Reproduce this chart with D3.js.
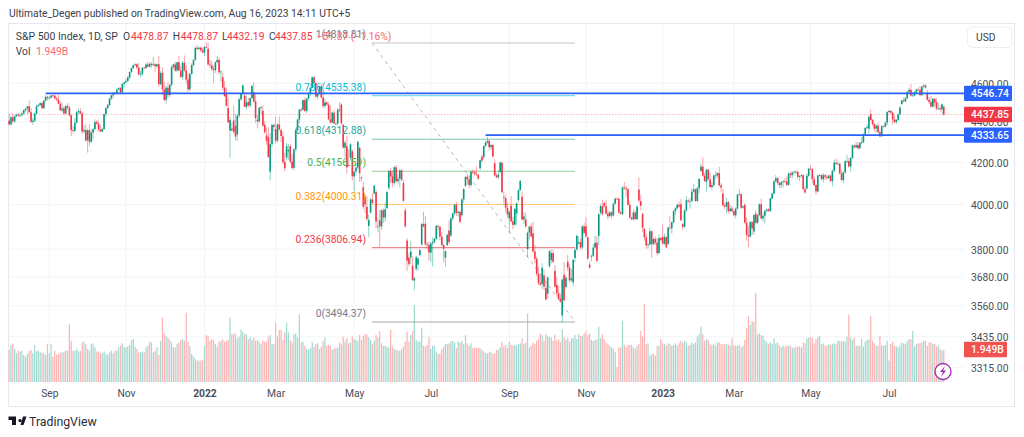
<!DOCTYPE html>
<html><head><meta charset="utf-8">
<script src="https://cdnjs.cloudflare.com/ajax/libs/d3/7.8.5/d3.min.js"></script>
<style>html,body{margin:0;padding:0;background:#fff;overflow:hidden}text{font-family:Roboto,sans-serif}</style>
</head><body><svg id="c" width="1024" height="437"></svg>
<script>
const shownLabels=["Sep","Nov","2022","Mar","May","Jul","Sep","Nov","2023","Mar","May","Jul"];
const closes=[
[4387,4423,4403,4429,4437,4432,4436,4443,4460,4468,4480,4449,4400,4406,4442,4480,4486,4496,4470,4509,4529,4523],
[4524,4536,4535,4520,4514,4493,4459,4469,4443,4481,4473,4433,4358,4355,4396,4449,4455,4443,4352,4359,4307],
[4358,4300,4346,4364,4399,4391,4361,4351,4364,4439,4471,4486,4520,4537,4550,4545,4567,4575,4552,4597,4605],
[4613,4631,4660,4681,4697,4702,4685,4647,4650,4683,4682,4701,4689,4704,4698,4702,4691,4702,4595,4656,4567],
[4513,4577,4538,4592,4686,4701,4668,4713,4668,4634,4710,4669,4620,4568,4650,4697,4726,4792,4786,4793,4778,4766],
[4797,4794,4701,4696,4677,4670,4713,4726,4659,4663,4577,4533,4483,4398,4410,4357,4350,4326,4432,4516],
[4546,4589,4477,4501,4484,4522,4587,4504,4419,4402,4472,4475,4381,4349,4305,4226,4289,4385,4374],
[4306,4387,4363,4329,4201,4171,4278,4260,4204,4173,4263,4358,4412,4463,4462,4512,4456,4520,4544,4576,4632,4602,4530],
[4546,4583,4526,4481,4500,4488,4413,4397,4447,4392,4392,4462,4459,4393,4272,4296,4175,4184,4288,4132],
[4155,4175,4300,4147,4123,3991,4001,3935,3930,4024,4008,4088,3923,3901,3901,3974,3941,3979,4058,4158,4132],
[4101,4176,4109,4121,4161,4116,4018,3901,3750,3735,3790,3667,3675,3765,3760,3796,3912,3901,3822,3819,3785],
[3825,3831,3845,3903,3899,3855,3819,3802,3791,3863,3831,3937,3960,3999,3962,3967,3921,4024,4072,4130],
[4119,4091,4155,4152,4145,4140,4122,4210,4208,4280,4297,4305,4274,4284,4228,4137,4128,4140,4199,4058,4030,3986,3955],
[3967,3924,3908,3980,4006,4067,4110,3932,3946,3901,3873,3900,3856,3790,3758,3693,3655,3647,3719,3640,3586],
[3678,3791,3783,3745,3640,3612,3589,3577,3669,3583,3677,3720,3666,3674,3753,3797,3859,3831,3807,3901,3872],
[3856,3759,3720,3771,3807,3828,3749,3956,3993,3957,3992,3959,3947,3965,3950,4004,4028,4027,3964,3958,4080],
[4077,4072,3999,3941,3933,3964,3934,3991,4019,3995,3895,3852,3817,3821,3879,3822,3845,3829,3783,3849,3840],
[3824,3853,3808,3895,3893,3919,3970,3983,3999,3991,3929,3899,3973,4020,4016,4017,4060,4071,4017,4077],
[4120,4179,4136,4111,4164,4118,4082,4091,4137,4136,4148,4090,4079,3997,3991,4012,3970,3982,3970],
[3951,3982,4046,4048,3986,3992,3918,3862,3856,3920,3892,3952,3917,3952,4002,3937,3949,3971,3978,3971,4028,4051,4109],
[4124,4101,4091,4105,4109,4108,4092,4146,4138,4151,4155,4154,4130,4134,4138,4072,4056,4135,4169],
[4167,4119,4091,4061,4136,4138,4119,4138,4130,4124,4136,4110,4159,4198,4192,4193,4146,4115,4151,4205,4206,4180],
[4221,4282,4273,4284,4268,4294,4299,4338,4369,4373,4426,4410,4389,4366,4381,4348,4328,4378,4376,4396,4450],
[4456,4447,4412,4399,4410,4439,4473,4510,4505,4522,4555,4566,4535,4536,4554,4567,4566,4538,4582,4589],
[4577,4513,4502,4478,4518,4499,4468,4469,4464,4490,4437.85]].flat();
const upperWicks=[
35,8,22,5,6,10,10,8,5,3,1,30,22,14,5,10,5,5,8,3,8,7,
8,5,3,16,8,25,15,30,12,5,15,10,10,20,22,8,12,15,6,20,30,
8,30,12,5,14,10,15,20,5,3,3,5,3,3,5,5,5,7,5,5,5,
12,8,3,3,3,5,5,25,15,3,6,8,15,10,10,40,8,3,45,10,30,
40,10,30,4,10,5,15,2,35,25,10,40,25,30,5,10,2,5,14,5,5,15,
2,25,35,25,25,15,5,22,15,5,25,35,30,50,15,30,75,60,5,8,
3,5,20,35,25,2,2,50,40,25,5,5,30,20,40,50,55,5,5,
65,5,40,5,25,45,15,30,10,35,5,10,5,3,10,3,15,3,6,5,5,5,5,
3,5,15,25,20,5,15,70,5,15,5,10,40,5,5,10,50,75,5,10,
5,20,5,5,5,25,15,50,25,5,30,5,10,40,50,5,10,30,5,5,15,
30,5,10,20,5,5,15,10,10,20,45,40,5,5,5,5,5,55,35,10,15,
5,20,5,5,5,5,20,5,5,5,45,5,5,5,15,5,5,5,5,5,
15,20,5,10,10,35,2,5,10,2,5,20,5,5,5,20,10,20,5,5,25,15,25,
5,45,20,5,5,5,5,25,20,30,5,5,15,50,30,10,30,35,20,25,25,
5,5,15,15,25,35,30,20,5,55,10,30,15,40,5,10,5,25,15,5,15,
40,5,15,5,15,30,30,5,10,30,5,30,15,5,5,5,5,5,5,5,5,
25,10,5,15,5,15,10,5,60,30,5,5,15,5,15,5,5,10,20,15,5,
55,15,5,5,55,5,5,5,5,15,25,5,5,20,5,15,15,25,5,5,
5,15,45,15,5,5,30,15,5,20,5,30,10,20,10,20,5,15,10,
5,5,5,25,5,5,10,25,40,5,5,5,15,5,5,25,15,5,5,5,5,5,5,
15,5,5,5,5,15,25,5,10,5,5,5,5,5,5,5,15,10,5,
15,5,15,5,5,5,5,10,5,10,5,5,5,15,20,15,5,15,5,5,30,15,
5,5,5,15,15,5,25,5,5,15,5,25,5,5,5,15,10,5,5,5,5,
5,5,5,20,5,5,10,5,15,5,5,10,30,15,5,5,10,20,5,5,
5,15,15,30,5,5,20,30,15,5,0];
const lowerWicks=[
5,5,10,8,6,8,9,10,10,8,30,5,6,15,8,5,3,3,3,4,5,12,
8,3,6,5,8,3,3,10,6,6,10,5,30,12,5,4,8,5,12,10,5,
60,22,5,35,8,5,8,3,3,5,14,4,5,8,15,8,3,5,5,5,20,
5,8,10,5,5,5,12,5,15,10,5,5,3,5,15,5,30,10,15,5,30,
8,22,15,10,8,8,6,8,2,4,15,8,20,15,8,3,5,5,8,8,8,5,
20,3,5,15,10,70,15,3,10,50,12,5,5,5,134,5,10,20,30,10,
10,10,2,15,10,10,3,5,25,35,10,35,5,10,20,5,41,15,20,
15,10,10,30,10,15,15,40,10,10,10,10,5,20,10,5,5,10,10,10,2,2,5,
15,5,5,10,10,3,5,5,5,5,10,10,10,10,5,50,30,5,15,20,
70,15,10,40,15,10,40,10,50,5,5,5,30,25,90,15,25,20,5,10,30,
20,10,5,15,40,5,5,5,45,10,30,5,40,10,25,5,5,5,10,20,35,
40,100,5,5,15,15,5,60,40,5,10,5,10,10,15,15,5,5,15,5,
25,15,10,10,10,5,5,10,10,10,5,10,15,15,5,5,5,5,5,5,30,20,15,
65,5,20,5,50,10,5,5,20,5,35,30,5,5,20,10,10,5,20,15,5,
20,5,15,5,5,15,5,5,29,5,5,15,10,5,15,20,5,5,10,10,5,
5,5,5,20,5,5,5,41,10,10,5,5,15,5,15,5,5,5,5,5,5,
10,35,5,5,5,5,5,5,10,20,20,15,15,15,5,60,5,10,10,5,5,
5,5,5,5,5,25,5,20,5,5,5,15,5,5,10,35,5,5,5,5,
25,5,5,5,45,5,5,15,10,20,10,5,20,5,10,30,10,5,5,
5,15,5,5,5,5,5,25,48,5,30,15,5,5,5,5,15,35,5,5,5,5,5,
5,10,15,15,25,5,5,5,15,15,10,10,10,20,10,5,5,5,5,
5,20,5,15,5,5,5,15,15,5,5,5,25,5,5,5,5,5,15,5,10,5,
25,5,5,5,5,5,5,5,5,5,25,5,10,15,20,5,5,5,5,5,15,
5,10,25,5,10,5,5,5,5,5,5,5,5,5,5,5,5,5,5,5,
5,5,10,5,5,20,10,5,10,25,5.66];
const gapBars=[109,117,119,120,121,122,123,124,125,129,134,135,136,139,140,141,142,143,146,149,150,151,152,153,154,182,183,185,186,187,188,192,193,194,195,196,197,198,200,201,202,203,207,208,216,217,218,219,220,221,222,223,224,225,226,228,239,240,241,242,248,250,258,259,260,266,269,270,271,274,275,277,278,279,281,283,284,287,292,293,294,295,296,297,299,300,303,304,305,306,309,310,311,312,314,316,317,318,319,323,324,326,336,345,346,347,348,358,361,368,369,379,382,391,403,408,409,412,437,471,472,489,503,508,512];
const gapOpens=[4787,4632,4547,4471,4356,4366,4408,4380,4336,4535,4554,4506,4412,4456,4385,4332,4324,4155,4363,4359,4327,4202,4223,4253,4279,4489,4385,4278,4187,4222,4253,4270,4128,4081,4035,3990,3903,3964,4052,4059,3900,3928,3984,4078,4101,3974,3838,3763,3764,3728,3665,3715,3733,3774,3821,3913,3763,3818,3883,3860,3951,4087,4171,4227,4225,4195,4153,4198,4034,3937,3995,3909,3959,4022,4037,3932,3800,3870,3651,3687,3633,3610,3726,3753,3706,3647,3520,3690,3638,3746,3657,3762,3799,3825,3808,3902,3852,3733,3767,3859,3963,4007,3957,4070,4016,3958,3890,3854,3823,4002,3911,4158,4105,4052,3998,3878,3958,4002,4075,4366,4440,4492,4550,4501,4478.87];
const volumes=[
1.93,2.24,2.34,2.0,1.75,1.93,1.85,1.89,1.64,1.54,1.71,1.89,1.93,1.75,2.24,1.85,1.91,1.81,1.77,1.77,1.65,2.3,
1.75,2.3,1.55,1.9,1.65,1.7,1.8,1.8,1.85,1.9,1.9,3.5,2.5,1.9,1.9,2.0,1.85,1.9,2.4,2.45,2.3,
2.0,1.9,2.3,2.35,2.1,1.85,1.85,1.75,1.75,1.85,1.7,1.65,1.8,1.9,1.75,1.9,1.9,2.1,2.2,2.35,2.1,
2.1,2.15,2.25,2.55,2.6,2.15,2.0,1.8,1.8,1.85,1.8,2.1,2.2,2.45,2.4,1.8,1.9,2.1,1.65,2.5,3.9,
2.95,2.8,2.7,2.55,2.4,2.1,2.1,2.3,2.4,2.55,2.6,2.5,4.2,2.45,2.2,1.7,1.55,1.4,1.3,1.3,1.3,1.35,
2.2,2.85,2.8,2.5,2.6,2.55,2.3,2.15,2.45,2.5,2.6,2.45,2.5,2.55,3.9,2.9,2.95,2.9,2.65,2.75,
3.2,3.05,2.9,2.9,2.6,2.75,2.55,2.7,2.5,2.55,2.45,2.3,2.5,2.45,2.45,2.75,2.85,2.3,2.3,
3.6,2.75,3.15,3.15,2.55,3.0,3.6,3.0,2.55,2.4,2.9,2.95,2.7,4.1,2.4,2.45,2.2,2.0,1.95,2.05,2.45,2.15,2.3,
2.35,2.0,2.15,2.5,2.7,2.2,2.25,2.2,1.95,2.05,2.05,2.1,2.4,2.3,2.75,2.45,2.65,2.35,2.4,2.75,
2.6,2.55,2.5,2.85,2.55,2.8,2.9,2.9,2.7,2.55,2.3,2.5,2.85,2.7,3.1,2.35,2.2,2.2,2.15,2.1,3.15,
2.15,2.0,1.95,1.9,1.9,2.0,2.15,2.45,3.05,2.45,2.85,3.1,4.65,2.55,2.45,2.45,3.3,2.2,2.15,2.25,2.75,
2.0,2.2,2.2,1.85,1.7,1.75,2.0,2.15,2.3,2.3,2.35,2.45,2.5,2.4,2.05,2.45,2.4,2.5,2.3,2.85,
2.35,2.2,2.35,2.05,2.1,2.05,2.1,2.05,1.95,1.85,1.75,1.75,1.8,1.85,1.7,1.75,1.95,1.95,2.1,2.45,2.15,2.25,2.1,
2.45,2.25,2.2,2.25,2.2,2.3,2.35,2.65,2.3,2.4,4.15,2.1,2.2,2.4,2.3,2.5,2.6,2.95,2.85,2.5,2.9,
2.8,2.75,2.7,2.5,2.85,2.5,2.6,2.4,3.2,2.7,2.55,2.7,2.45,2.65,2.65,2.85,2.6,2.9,2.8,2.8,2.95,
3.1,2.85,2.95,2.55,2.5,2.55,2.6,3.35,2.65,2.9,2.6,2.4,2.3,2.2,2.1,2.0,1.8,0.9,2.1,2.1,3.7,
2.25,2.1,2.25,2.25,2.25,2.1,2.0,2.2,2.3,3.1,2.75,4.75,2.3,2.35,1.6,1.7,1.7,1.6,2.2,2.2,2.6,
2.35,2.3,2.2,2.35,2.3,2.2,2.25,2.35,2.2,2.35,2.5,2.4,2.5,2.4,2.2,2.25,2.4,2.3,2.4,2.75,
2.9,3.35,2.9,2.5,2.6,2.55,2.3,2.25,2.3,2.2,2.4,2.4,2.3,2.3,2.3,2.3,2.25,2.2,2.65,
2.2,2.2,2.2,2.25,2.1,2.2,2.55,3.25,4.0,3.45,3.7,3.65,5.4,2.9,2.95,2.85,2.8,2.55,2.4,2.3,2.4,2.3,2.65,
2.35,2.4,2.2,2.1,2.2,2.15,2.2,2.2,2.2,2.1,2.05,2.15,2.15,2.15,2.1,2.4,2.35,2.65,2.7,
2.7,2.7,2.35,2.6,2.75,2.8,2.3,2.35,2.2,2.2,2.3,2.25,2.3,2.35,2.3,2.5,2.5,2.45,2.5,2.45,2.75,4.1,
2.7,2.55,2.7,2.2,2.2,2.2,2.6,2.15,2.45,2.55,2.6,4.0,2.5,2.35,2.2,2.2,2.8,2.25,2.2,2.25,2.5,
1.3,2.3,2.45,2.2,2.15,2.1,2.2,2.4,2.35,2.3,2.5,2.6,2.6,3.1,2.15,2.3,2.35,2.35,2.4,2.5,
2.5,2.2,2.4,2.4,2.3,2.3,2.15,2.2,2.0,1.9,1.949];
const firstBarOfShown=[22,64,107,146,189,231,274,316,358,397,439,482];
const priceTicks=[4600,4400,4200,4000,3800,3680,3560,3435,3315];
const fibLevels=[1,0.786,0.618,0.5,0.382,0.236,0];
const fibPrices=[4818.81,4535.38,4312.88,4156.59,4000.31,3806.94,3494.37];
const fibColors=["#787b86","#00bcd4","#26a69a","#4caf50","#ff9800","#f23645","#787b86"];
const fibLineColors=["#c4c5ca","#7fdaf0","#7cc4b8","#95cf97","#ffc677","#e98a92","#a8a9ae"];
const levelPrices=[4546.74,4333.65];
const levelStartBars=[20,261];
const lastClose=4437.85, lastVolume=1.949;

const svg=d3.select("#c");
const plotL=9,plotR=964,frameT=23,frameB=406,axisY=393;
const x=d3.scaleLinear().domain([22,482]).range([49.3,889]);
const y=d3.scaleLog().domain([3315,4600]).range([367.7,83.3]);
const v=d3.scaleLinear().domain([0,5.4]).range([382,293]);
const opens=closes.map((c,i)=>{const g=gapBars.indexOf(i);return g>=0?gapOpens[g]:(i?closes[i-1]:4406);});
const bars=closes.map((c,i)=>({i,c,o:opens[i],h:Math.max(c,opens[i])+upperWicks[i],l:Math.min(c,opens[i])-lowerWicks[i],vol:volumes[i]}));
const UP="#089981",DN="#f23645";

// frame + grid
svg.append("rect").attr("x",8.5).attr("y",frameT+.5).attr("width",1006).attr("height",frameB-frameT).attr("fill","#fff").attr("stroke","#e6e8ee");
svg.append("g").selectAll("line").data(firstBarOfShown).join("line")
 .attr("x1",d=>x(d)).attr("x2",d=>x(d)).attr("y1",frameT+1).attr("y2",frameB-22).attr("stroke","#f3f4f7");
svg.append("g").selectAll("line").data(priceTicks).join("line")
 .attr("x1",plotL).attr("x2",plotR).attr("y1",d=>y(d)).attr("y2",d=>y(d)).attr("stroke","#f3f4f7");

// volume
svg.append("g").selectAll("rect").data(bars).join("rect")
 .attr("x",d=>x(d.i)-.6).attr("width",1.2).attr("y",d=>v(d.vol)).attr("height",d=>382-v(d.vol))
 .attr("fill",d=>d.c>=d.o?"#9fd9d1":"#fcb3b2");

// fib lines
svg.append("g").selectAll("line").data(fibPrices).join("line")
 .attr("x1",372).attr("x2",575).attr("y1",d=>y(d)).attr("y2",d=>y(d))
 .attr("stroke",(d,i)=>fibLineColors[i]).attr("stroke-width",1.1);
svg.append("line").attr("x1",372).attr("x2",575).attr("y1",y(fibPrices[0])).attr("y2",y(fibPrices[6]))
 .attr("stroke","#b4b5ba").attr("stroke-width",1).attr("stroke-dasharray","3.5 4");

// last price line
svg.append("line").attr("x1",plotL).attr("x2",plotR).attr("y1",y(lastClose)).attr("y2",y(lastClose))
 .attr("stroke","#f9a7ac").attr("stroke-width",.8).attr("stroke-dasharray","1.5 1.5");

// candles
const cg=svg.append("g").selectAll("g").data(bars).join("g");
cg.append("line").attr("x1",d=>x(d.i)).attr("x2",d=>x(d.i)).attr("y1",d=>y(d.h)).attr("y2",d=>y(d.l))
 .attr("stroke",d=>d.c>=d.o?UP:DN).attr("stroke-width",.7).attr("stroke-opacity",.65);
cg.append("rect").attr("x",d=>x(d.i)-.8).attr("width",1.6)
 .attr("y",d=>y(Math.max(d.o,d.c))).attr("height",d=>Math.max(.8,y(Math.min(d.o,d.c))-y(Math.max(d.o,d.c))))
 .attr("fill",d=>d.c>=d.o?UP:DN);

// levels
svg.append("g").selectAll("line").data(levelPrices).join("line")
 .attr("x1",(d,i)=>x(levelStartBars[i])).attr("x2",plotR).attr("y1",d=>y(d)).attr("y2",d=>y(d))
 .attr("stroke","#2962ff").attr("stroke-width",1.8);

// fib labels
svg.append("g").selectAll("text").data(fibPrices).join("text")
 .attr("x",366).attr("y",d=>y(d)-5).attr("text-anchor","end")
 .attr("font-size",10.3).attr("fill",(d,i)=>fibColors[i])
 .text((d,i)=>`${fibLevels[i]}(${d.toFixed(2)})`);

// axes
const xAxis=d3.axisBottom(x).tickValues(firstBarOfShown).tickSize(0).tickFormat((d,i)=>shownLabels[i]);
const gx=svg.append("g").attr("transform",`translate(0,${axisY-6})`).call(xAxis);
gx.select(".domain").remove();
gx.selectAll("text").attr("font-size",10.3).attr("fill","#4a4e5a").attr("font-weight",(d,i)=>/^20/.test(shownLabels[i])?700:400).style("font-family","Roboto,sans-serif");
const yAxis=d3.axisRight(y).tickValues(priceTicks).tickSize(0).tickFormat(d=>d.toFixed(2));
const gy=svg.append("g").attr("transform",`translate(971,0.6)`).call(yAxis);
gy.select(".domain").remove();
gy.selectAll("text").attr("x",0).attr("text-anchor","start").attr("font-size",10.3).attr("fill","#4a4e5a").style("font-family","Roboto,sans-serif");

// price tags
const tags=[[y(levelPrices[0]),"#2962ff",levelPrices[0].toFixed(2),48],[y(lastClose),"#f23645",lastClose.toFixed(2),48],[y(levelPrices[1]),"#2962ff",levelPrices[1].toFixed(2),48],[349.5,"#f05350",lastVolume.toFixed(3)+"B",43]];
const tg=svg.append("g").selectAll("g").data(tags).join("g");
tg.append("rect").attr("x",964).attr("y",d=>d[0]-7.7).attr("width",d=>d[3]).attr("height",15.4).attr("rx",1).attr("fill",d=>d[1]);
tg.append("text").attr("x",971).attr("y",d=>d[0]+3.6).attr("font-size",10.3).attr("fill","#fff").attr("font-weight",500).text(d=>d[2]);

// header texts
const T=(xx,yy,s,fill,size=10.3)=>svg.append("text").attr("x",xx).attr("y",yy).attr("font-size",size).attr("fill",fill).text(s);
T(9,17,"Ultimate_Degen published on TradingView.com, Aug 16, 2023 14:11 UTC+5","#3a3e4a",10.3);
T(15.7,40,"S&P 500 Index, 1D, SP","#3a3e4a",10.5);
[[123,"O","4478.87"],[172.7,"H","4478.87"],[222,"L","4432.19"],[269,"C","4437.85"]].forEach(a=>{T(a[0],40,a[1],"#3a3e4a");T(a[0]+(a[1]=="L"?5:a[1]=="C"?6:8),40,a[2],"#f23645");});
T(316.5,40,"\u221251.87 (\u22121.16%)","#f56a72");
T(15.7,55,"Vol","#3a3e4a");
T(36,55,"1.949B","#f56a72");
svg.append("rect").attr("x",967.5).attr("y",27).attr("width",44.5).attr("height",20.5).attr("rx",4).attr("fill","#fff").attr("stroke","#eceef2");
T(976,41,"USD","#3a3e4a",10.3);

// lightning badge
svg.append("circle").attr("cx",943).attr("cy",371.5).attr("r",8).attr("fill","#fff").attr("stroke","#9c27b0").attr("stroke-width",1.3);
svg.append("path").attr("d","M945 366 L940 372 L943 372 L941 377 L946 370.5 L943 370.5 Z").attr("fill","#9c27b0");

// logo
svg.append("path").attr("d","M8.5 416.5H16V425H12V420H8.5Z M20 419a1.6 1.6 0 1 1-.01 0Z M20.5 425L23 416.5H26.5L23.5 425Z").attr("fill","#131722");
T(29,425.5,"TradingView","#2a2e39",12.3);
</script></body></html>
